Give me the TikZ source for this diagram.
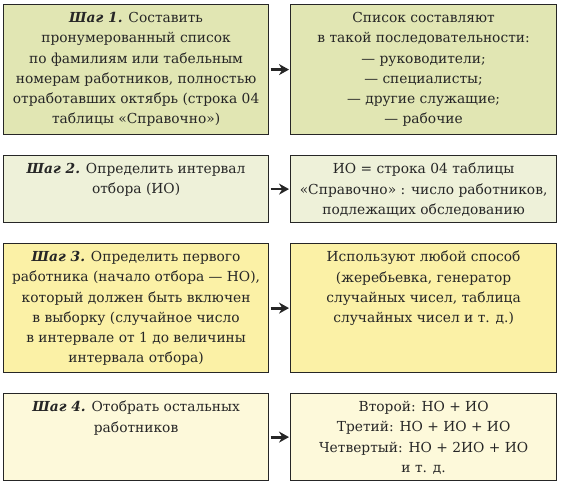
\documentclass[tikz,border=0pt]{standalone}
\usepackage{fontspec}
\setmainfont{DejaVu Serif}
\usetikzlibrary{arrows.meta}
\definecolor{cA}{HTML}{E1E6B3}
\definecolor{cB}{HTML}{EEF1D9}
\definecolor{cC}{HTML}{FBF1A6}
\definecolor{cD}{HTML}{FDF9DA}
\definecolor{ink}{HTML}{262626}
\tikzset{
  box/.style={draw=ink, line width=1.2pt, rectangle, anchor=north west, inner sep=0pt},
  lbox/.style={box, minimum width=265pt},
  rbox/.style={box, minimum width=266pt},
  txt/.style={anchor=north, align=center, inner sep=0pt, text=ink, yshift=-8pt,
    font=\fontsize{13.8pt}{20.3pt}\selectfont},
  arr/.style={draw=ink, line width=2.8pt, -{Stealth[length=10pt,width=11pt]}, shorten <=1.5pt, shorten >=1pt},
}
\newcommand{\stepl}[1]{\textbf{\textit{#1}}}
\begin{document}
\begin{tikzpicture}[x=1pt,y=-1pt]
\useasboundingbox (0,0) rectangle (562,486);
% row 1
\node[lbox, fill=cA, minimum height=130pt] (l1) at (3,4) {};
\node[rbox, fill=cA, minimum height=130pt] (r1) at (290,4) {};
\node[txt] (tl1) at (l1.north) {\stepl{Шаг 1.} Составить\\пронумерованный список\\по фамилиям или табельным\\номерам работников, полностью\\отработавших октябрь (строка 04\\таблицы «Справочно»)};
\node[txt] (tr1) at (r1.north) {Список составляют\\в такой последовательности:\\— руководители;\\— специалисты;\\— другие служащие;\\— рабочие};
% row 2
\node[lbox, fill=cB, minimum height=67pt] (l2) at (3,155) {};
\node[rbox, fill=cB, minimum height=67pt] (r2) at (290,155) {};
\node[txt] (tl2) at (l2.north) {\stepl{Шаг 2.} Определить интервал\\отбора (ИО)};
\node[txt] (tr2) at (r2.north) {ИО = строка 04 таблицы\\«Справочно» : число работников,\\подлежащих обследованию};
% row 3
\node[lbox, fill=cC, minimum height=129pt] (l3) at (3,243) {};
\node[rbox, fill=cC, minimum height=129pt] (r3) at (290,243) {};
\node[txt] (tl3) at (l3.north) {\stepl{Шаг 3.} Определить первого\\работника (начало отбора — НО),\\который должен быть включен\\в выборку (случайное число\\в интервале от 1 до величины\\интервала отбора)};
\node[txt] (tr3) at (r3.north) {Используют любой способ\\(жеребьевка, генератор\\случайных чисел, таблица\\случайных чисел и т. д.)};
% row 4
\node[lbox, fill=cD, minimum height=87pt] (l4) at (3,393) {};
\node[rbox, fill=cD, minimum height=87pt] (r4) at (290,393) {};
\node[txt] (tl4) at (l4.north) {\stepl{Шаг 4.} Отобрать остальных\\работников};
\node[txt] (tr4) at (r4.north) {Второй: НО + ИО\\Третий: НО + ИО + ИО\\Четвертый: НО + 2ИО + ИО\\и т. д.};
% arrows
\draw[arr] (l1) -- (r1);
\draw[arr] (l2) -- (r2);
\draw[arr] (l3) -- (r3);
\draw[arr] (l4) -- (r4);
\end{tikzpicture}
\end{document}
